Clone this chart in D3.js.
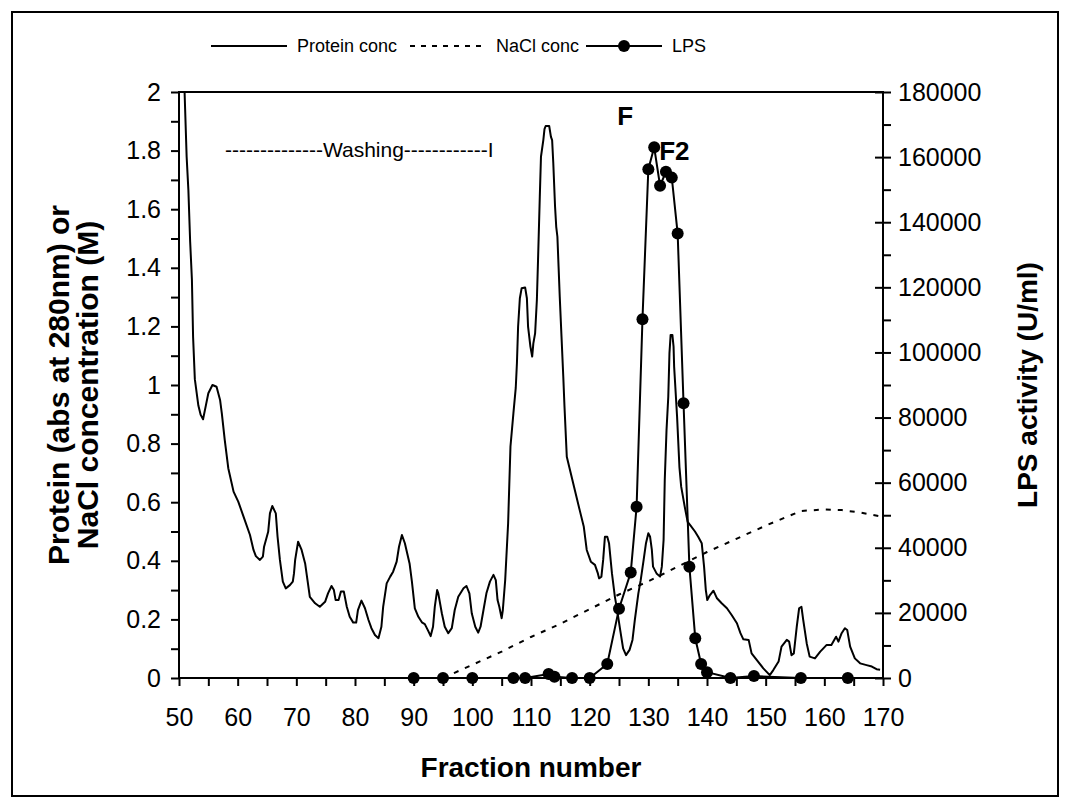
<!DOCTYPE html>
<html><head><meta charset="utf-8">
<script src="https://cdn.jsdelivr.net/npm/d3@7"></script>
<style>
body{margin:0;background:#fff}
svg{display:block}
text{font-family:"Liberation Sans",Arial,sans-serif;fill:#000}
</style>
</head><body>
<svg id="chart" width="1070" height="808"></svg>
<script>
// Protein absorbance at 280 nm along the elution (fraction, abs)
const proteinFraction = [50,51.3,51.6,51.9,52.2,52.4,52.7,53.3,53.7,54.1,54.6,55.0,55.7,56.4,57.0,57.3,57.8,58.4,59.3,60.1,61.0,62.1,62.7,63.1,63.8,64.3,64.5,65.2,65.5,65.9,66.5,66.8,67.2,67.7,68.2,68.9,69.4,69.6,69.8,70.3,70.9,71.5,71.9,72.3,73.2,74.0,74.9,75.4,76.0,76.4,76.7,77.2,77.6,78.1,78.6,79.1,79.7,80.2,80.5,81.1,81.7,82.3,82.8,83.4,84.0,84.5,84.8,85.4,86.0,86.5,87.1,87.5,88.0,88.5,89.3,89.7,90.2,90.8,91.4,91.9,92.5,92.9,93.3,93.6,94.0,94.2,94.8,95.3,95.9,96.5,97.0,97.6,98.5,99.0,99.5,99.9,100.5,101.0,101.4,101.9,102.4,103.0,103.6,104.0,104.3,104.6,105.0,105.2,105.6,106.1,106.5,107.0,107.4,107.6,107.8,108.1,108.4,109.0,109.3,109.5,109.9,110.2,110.4,110.7,111.0,111.2,111.5,111.7,112.1,112.3,112.5,113.1,113.4,113.6,113.8,114.1,114.3,114.5,114.7,114.9,115.2,115.5,115.7,116.1,117.2,118.3,119.0,119.5,120.2,120.9,121.4,121.6,122.0,122.3,122.6,123.0,123.3,123.8,124.3,124.6,125.2,125.7,126.2,126.8,127.3,127.7,128.3,128.7,129.2,129.6,130.0,130.3,130.6,130.8,131.4,132.0,132.3,132.6,132.8,133.1,133.4,133.6,133.8,134.1,134.3,134.4,134.6,134.9,135.3,135.6,136.2,136.7,137.2,137.95,138.5,139.1,139.5,139.8,140.05,140.5,141.1,141.7,142.5,143.4,144.2,145.1,145.7,146.2,147.1,147.6,148.5,149.6,150.7,151.3,152.2,152.7,153.6,154.0,154.4,154.8,155.3,155.7,156.1,156.4,157.0,157.5,158.4,159.3,160.4,161.2,162.0,162.4,162.95,163.5,163.9,164.4,165.2,166.1,167.2,168.1,168.9,169.5];
const proteinAbs = [2.6,1.78,1.665,1.49,1.36,1.165,1.02,0.93,0.898,0.883,0.932,0.972,1.0,0.994,0.949,0.903,0.812,0.716,0.636,0.602,0.551,0.488,0.437,0.416,0.403,0.414,0.448,0.499,0.562,0.587,0.562,0.482,0.403,0.329,0.306,0.317,0.329,0.357,0.403,0.465,0.437,0.391,0.334,0.277,0.255,0.243,0.26,0.289,0.314,0.30,0.266,0.266,0.295,0.295,0.243,0.209,0.189,0.189,0.232,0.264,0.238,0.198,0.17,0.147,0.136,0.175,0.243,0.323,0.346,0.363,0.397,0.448,0.488,0.46,0.391,0.329,0.238,0.209,0.19,0.184,0.16,0.143,0.175,0.243,0.30,0.289,0.221,0.175,0.153,0.17,0.232,0.277,0.306,0.314,0.289,0.221,0.175,0.155,0.175,0.232,0.289,0.329,0.352,0.334,0.266,0.243,0.204,0.232,0.334,0.528,0.79,0.903,0.99,1.074,1.199,1.296,1.33,1.333,1.296,1.199,1.131,1.097,1.142,1.176,1.29,1.427,1.643,1.779,1.836,1.873,1.884,1.884,1.847,1.836,1.757,1.609,1.54,1.506,1.404,1.301,1.165,1.03,0.93,0.755,0.664,0.573,0.516,0.437,0.397,0.386,0.357,0.34,0.346,0.403,0.482,0.482,0.46,0.357,0.277,0.243,0.164,0.101,0.078,0.096,0.13,0.198,0.289,0.334,0.403,0.46,0.494,0.482,0.437,0.38,0.357,0.346,0.38,0.471,0.676,0.846,0.96,1.108,1.171,1.171,1.131,1.062,0.994,0.892,0.72,0.653,0.585,0.533,0.52,0.50,0.482,0.46,0.38,0.30,0.266,0.283,0.298,0.272,0.255,0.238,0.215,0.187,0.153,0.132,0.13,0.084,0.061,0.033,0.01,0.027,0.056,0.107,0.13,0.124,0.078,0.084,0.175,0.238,0.243,0.198,0.118,0.073,0.067,0.09,0.113,0.113,0.141,0.124,0.153,0.17,0.164,0.107,0.067,0.05,0.044,0.039,0.03,0.028];

// NaCl gradient (fraction, M)
const naclFraction = [95,100,105,110,115,120,125,130,135,140,145,150,156,160,163,166,170];
const naclConc = [0,0.045,0.09,0.14,0.185,0.235,0.285,0.33,0.38,0.43,0.475,0.52,0.57,0.575,0.573,0.565,0.55];

// LPS activity (fraction, U/ml)
const lpsFraction = [90,95,100,107,109,113,114,117,120,123,125,127,128,129,130,131,132,133,134,135,136,137,138,139,140,144,148,156,164];
const lpsActivity = [0,0,0,0,0,1200,400,0,0,4300,21300,32400,52600,110200,156300,163000,151200,155500,153700,136500,84400,34200,12200,4300,1800,0,600,0,0];

// Axis ticks and labels
const xTicks = [50,60,70,80,90,100,110,120,130,140,150,160,170];
const leftTicks = [0,0.2,0.4,0.6,0.8,1,1.2,1.4,1.6,1.8,2];
const rightTicks = [0,20000,40000,60000,80000,100000,120000,140000,160000,180000];
const legendLabels = ["Protein conc","NaCl conc","LPS"];
const peakLabels = ["F","F2"];
const washingLabel = "--------------Washing------------I";

const svg = d3.select("#chart");
const W = 1070, H = 808;
const m = {left:179, right:883, top:92, bottom:678};

svg.append("rect").attr("width",W).attr("height",H).attr("fill","#fff");
svg.append("rect").attr("x",12).attr("y",12).attr("width",1046).attr("height",784)
  .attr("fill","none").attr("stroke","#000").attr("stroke-width",2);

const x = d3.scaleLinear([50,170],[m.left,m.right]);
const yL = d3.scaleLinear([0,2],[m.bottom,m.top]);
const yR = d3.scaleLinear([0,180000],[m.bottom,m.top]);

svg.append("defs").append("clipPath").attr("id","plot")
  .append("rect").attr("x",m.left).attr("y",m.top)
  .attr("width",m.right-m.left).attr("height",m.bottom-m.top);

const tickFont = 25;

// Left axis: minor every 0.1, labels every 0.2
const leftAll = d3.range(0,21).map(i=>i/10);
const gL = svg.append("g").attr("transform",`translate(${m.left},0)`)
  .call(d3.axisLeft(yL).tickValues(leftAll).tickSize(8).tickPadding(10)
    .tickFormat(d => leftTicks.some(t=>Math.abs(t-d)<1e-9) ? String(+d.toFixed(1)) : ""));
// Right axis: major ticks cross the line, minor ticks point outward
const rightMinor = d3.range(0,19).map(i=>i*10000);
const gR = svg.append("g").attr("transform",`translate(${m.right},0)`)
  .call(d3.axisRight(yR).tickValues(rightMinor).tickSize(8).tickPadding(7)
    .tickFormat(d => rightTicks.includes(d) ? String(d) : ""));
gR.selectAll(".tick").filter(d=>rightTicks.includes(d)).select("line").attr("x1",-8);
// Bottom axis: ticks every 5, labels every 10
const xAll = d3.range(50,171,5);
const gX = svg.append("g").attr("transform",`translate(0,${m.bottom})`)
  .call(d3.axisBottom(x).tickValues(xAll).tickSize(8).tickPadding(22)
    .tickFormat(d => xTicks.includes(d) ? String(d) : ""));

[gL,gR,gX].forEach(g=>{
  g.select(".domain").remove();
  g.selectAll("line").attr("stroke","#000").attr("stroke-width",2);
  g.selectAll("text").attr("font-size",tickFont).attr("font-family",'"Liberation Sans",Arial,sans-serif').attr("fill","#000");
});

// Plot box
svg.append("rect").attr("x",m.left).attr("y",m.top)
  .attr("width",m.right-m.left).attr("height",m.bottom-m.top)
  .attr("fill","none").attr("stroke","#000").attr("stroke-width",2);

const plot = svg.append("g").attr("clip-path","url(#plot)");

// Protein curve
const protein = proteinFraction.map((f,i)=>[f,proteinAbs[i]]);
plot.append("path").datum(protein)
  .attr("d", d3.line().x(d=>x(d[0])).y(d=>yL(d[1])))
  .attr("fill","none").attr("stroke","#000").attr("stroke-width",2).attr("stroke-linejoin","round");

// NaCl gradient
const nacl = naclFraction.map((f,i)=>[f,naclConc[i]]);
plot.append("path").datum(nacl)
  .attr("d", d3.line().x(d=>x(d[0])).y(d=>yL(d[1])))
  .attr("fill","none").attr("stroke","#000").attr("stroke-width",2).attr("stroke-dasharray","5,7");

// LPS activity
const lps = lpsFraction.map((f,i)=>[f,lpsActivity[i]]);
svg.append("path").datum(lps)
  .attr("d", d3.line().x(d=>x(d[0])).y(d=>yR(d[1])))
  .attr("fill","none").attr("stroke","#000").attr("stroke-width",2);
svg.append("g").selectAll("circle").data(lps).join("circle")
  .attr("cx",d=>x(d[0])).attr("cy",d=>yR(d[1])).attr("r",6).attr("fill","#000");

// Peak labels
const fIdx = lpsActivity.indexOf(d3.max(lpsActivity));
svg.append("text").attr("x",x(lpsFraction[fIdx])-37).attr("y",yR(lpsActivity[fIdx])-22)
  .attr("font-size",26).attr("font-weight","bold").text(peakLabels[0]);
svg.append("text").attr("x",x(lpsFraction[fIdx])+5).attr("y",yR(lpsActivity[fIdx])+13)
  .attr("font-size",26).attr("font-weight","bold").text(peakLabels[1]);

// Washing annotation
svg.append("text").attr("x",225).attr("y",157).attr("font-size",21).text(washingLabel);

// Axis titles
const titleFont = 28;
svg.append("text").attr("transform",`translate(69,${(m.top+m.bottom)/2}) rotate(-90)`)
  .attr("text-anchor","middle").attr("font-size",30).attr("font-weight","bold").text("Protein (abs at 280nm) or");
svg.append("text").attr("transform",`translate(98,${(m.top+m.bottom)/2}) rotate(-90)`)
  .attr("text-anchor","middle").attr("font-size",30).attr("font-weight","bold").text("NaCl concentration (M)");
svg.append("text").attr("transform",`translate(1037,${(m.top+m.bottom)/2}) rotate(-90)`)
  .attr("text-anchor","middle").attr("font-size",titleFont).attr("font-weight","bold").text("LPS activity (U/ml)");
svg.append("text").attr("x",(m.left+m.right)/2).attr("y",777)
  .attr("text-anchor","middle").attr("font-size",titleFont).attr("font-weight","bold").text("Fraction number");

// Legend
const ly = 46;
const lg = svg.append("g");
const items = [
  {x0:211, dash:null, marker:false},
  {x0:410, dash:"5,6", marker:false},
  {x0:586, dash:null, marker:true}
];
items.forEach((it,i)=>{
  lg.append("line").attr("x1",it.x0).attr("x2",it.x0+76).attr("y1",ly).attr("y2",ly)
    .attr("stroke","#000").attr("stroke-width",2).attr("stroke-dasharray",it.dash);
  if(it.marker) lg.append("circle").attr("cx",it.x0+38).attr("cy",ly).attr("r",6).attr("fill","#000");
  lg.append("text").attr("x",it.x0+86).attr("y",ly+6).attr("font-size",18).text(legendLabels[i]);
});
</script>
</body></html>
